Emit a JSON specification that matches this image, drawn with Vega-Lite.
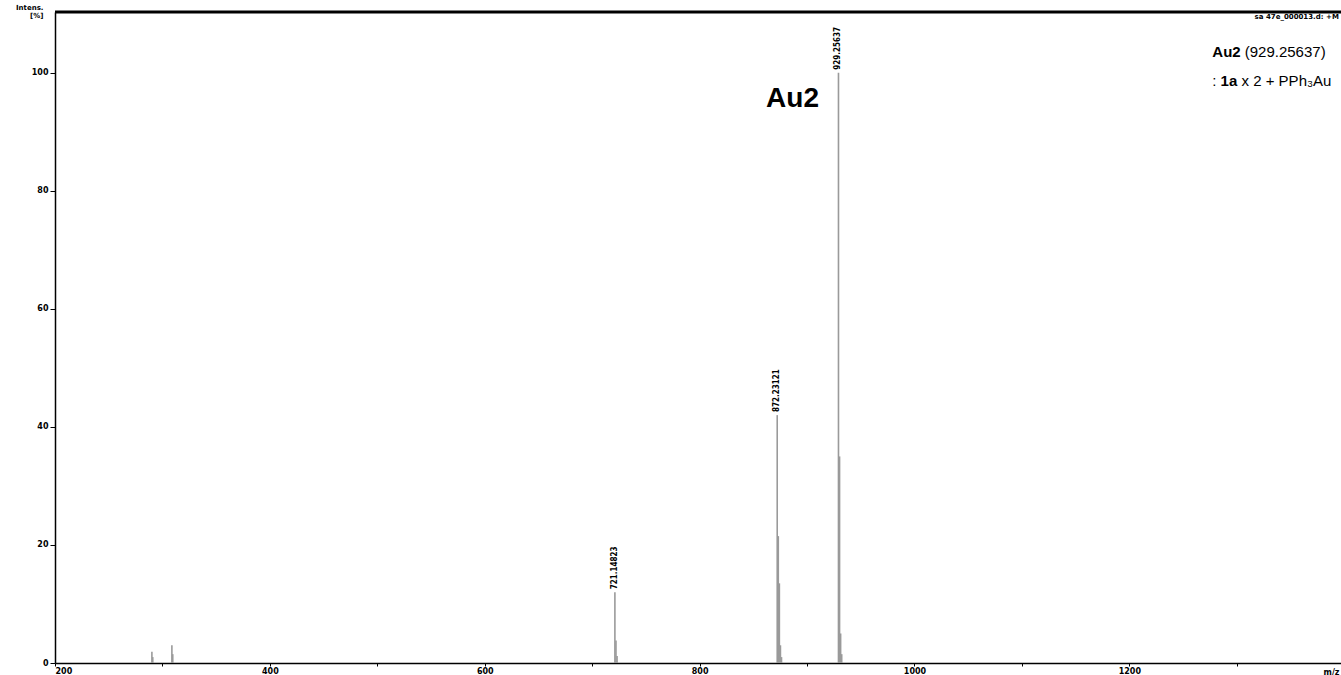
{
  "$schema": "https://vega.github.io/schema/vega-lite/v6.json",
  "autosize": "none",
  "width": 1286,
  "height": 651,
  "padding": {"left": 55, "top": 12, "right": 0, "bottom": 12},
  "background": "white",
  "config": {"view": {"stroke": null}, "font": "Liberation Sans"},
  "datasets": {
    "peaks": [
      {"mz": 290.2, "intensity": 1.9},
      {"mz": 291.0, "intensity": 1.0},
      {"mz": 308.8, "intensity": 3.0},
      {"mz": 309.6, "intensity": 1.5},
      {"mz": 721.15, "intensity": 12.0},
      {"mz": 722.15, "intensity": 3.8},
      {"mz": 723.15, "intensity": 1.2},
      {"mz": 872.23, "intensity": 42.0},
      {"mz": 873.23, "intensity": 21.5},
      {"mz": 874.23, "intensity": 13.5},
      {"mz": 875.23, "intensity": 3.0},
      {"mz": 876.23, "intensity": 1.0},
      {"mz": 929.26, "intensity": 100.0},
      {"mz": 930.26, "intensity": 35.0},
      {"mz": 931.26, "intensity": 5.0},
      {"mz": 932.26, "intensity": 1.5}
    ],
    "peakLabels": [
      {"mz": 721.15, "intensity": 12.0, "label": "721.14823"},
      {"mz": 872.23, "intensity": 42.0, "label": "872.23121"},
      {"mz": 929.26, "intensity": 100.0, "label": "929.25637"}
    ],
    "bigLabel": [
      {"mz": 886.5, "intensity": 94.2, "text": "Au2"}
    ],
    "boldText": [
      {"mz": 1277.2, "intensity": 102.7, "text": "Au2"},
      {"mz": 1284.9, "intensity": 97.8, "text": "1a"}
    ],
    "plainText": [
      {"mz": 1307.4, "intensity": 102.7, "text": "(929.25637)"},
      {"mz": 1277.2, "intensity": 97.8, "text": ":"},
      {"mz": 1304.4, "intensity": 97.8, "text": "x 2 + PPh₃Au"}
    ],
    "fileLabel": [
      {"mz": 1395, "intensity": 109.5, "text": "sa 47e_000013.d: +M"}
    ],
    "frame": [
      {"top": 110.3}
    ]
  },
  "layer": [
    {
      "data": {"name": "peaks"},
      "mark": {"type": "rule", "color": "#9a9a9a", "strokeWidth": 1.6},
      "encoding": {
        "x": {
          "field": "mz",
          "type": "quantitative",
          "scale": {"domain": [200, 1397], "nice": false, "zero": false},
          "axis": {
            "values": [200, 300, 400, 500, 600, 700, 800, 900, 1000, 1100, 1200, 1300],
            "labelExpr": "datum.value % 200 == 0 ? datum.value : ''",
            "grid": false,
            "domainColor": "#000000",
            "domainWidth": 1.5,
            "tickColor": "#000000",
            "tickSize": 3,
            "labelFont": "DejaVu Sans",
            "labelFontSize": 8,
            "labelFontWeight": "bold",
            "labelColor": "#000000",
            "labelPadding": 1,
            "title": "m/z",
            "titleFont": "DejaVu Sans",
            "titleFontSize": 8,
            "titleFontWeight": "bold",
            "titleAnchor": "end",
            "titleAlign": "right",
            "titleX": 1284,
            "titleY": 5,
            "titleBaseline": "top"
          }
        },
        "y": {
          "field": "intensity",
          "type": "quantitative",
          "scale": {"domain": [0, 110.3], "nice": false},
          "axis": {
            "values": [0, 20, 40, 60, 80, 100],
            "grid": false,
            "domainColor": "#000000",
            "domainWidth": 1.5,
            "tickColor": "#000000",
            "tickSize": 5,
            "labelFont": "DejaVu Sans",
            "labelFontSize": 8,
            "labelFontWeight": "bold",
            "labelColor": "#000000",
            "labelPadding": 2,
            "title": ["Intens.", "[%]"],
            "titleFont": "DejaVu Sans",
            "titleFontSize": 7,
            "titleFontWeight": "bold",
            "titleAngle": 0,
            "titleAlign": "right",
            "titleBaseline": "top",
            "titleLineHeight": 8,
            "titleX": -12,
            "titleY": -9
          }
        },
        "y2": {"datum": 0}
      }
    },
    {
      "data": {"name": "frame"},
      "mark": {"type": "rule", "color": "#000000", "strokeWidth": 3},
      "encoding": {"y": {"field": "top", "type": "quantitative"}}
    },
    {
      "data": {"name": "peakLabels"},
      "mark": {"type": "text", "angle": 270, "align": "left", "baseline": "middle", "dx": 3, "font": "DejaVu Sans Condensed", "fontSize": 8, "fontWeight": "bold", "color": "#000000"},
      "encoding": {
        "x": {"field": "mz", "type": "quantitative"},
        "y": {"field": "intensity", "type": "quantitative"},
        "text": {"field": "label"}
      }
    },
    {
      "data": {"name": "bigLabel"},
      "mark": {"type": "text", "align": "center", "baseline": "alphabetic", "fontSize": 28, "fontWeight": "bold", "color": "#000000"},
      "encoding": {
        "x": {"field": "mz", "type": "quantitative"},
        "y": {"field": "intensity", "type": "quantitative"},
        "text": {"field": "text"}
      }
    },
    {
      "data": {"name": "boldText"},
      "mark": {"type": "text", "align": "left", "baseline": "alphabetic", "fontSize": 15, "fontWeight": "bold", "color": "#000000"},
      "encoding": {
        "x": {"field": "mz", "type": "quantitative"},
        "y": {"field": "intensity", "type": "quantitative"},
        "text": {"field": "text"}
      }
    },
    {
      "data": {"name": "plainText"},
      "mark": {"type": "text", "align": "left", "baseline": "alphabetic", "fontSize": 15, "color": "#000000"},
      "encoding": {
        "x": {"field": "mz", "type": "quantitative"},
        "y": {"field": "intensity", "type": "quantitative"},
        "text": {"field": "text"}
      }
    },
    {
      "data": {"name": "fileLabel"},
      "mark": {"type": "text", "align": "right", "baseline": "middle", "font": "DejaVu Sans", "fontSize": 7, "fontWeight": "bold", "color": "#000000"},
      "encoding": {
        "x": {"field": "mz", "type": "quantitative"},
        "y": {"field": "intensity", "type": "quantitative"},
        "text": {"field": "text"}
      }
    }
  ]
}
